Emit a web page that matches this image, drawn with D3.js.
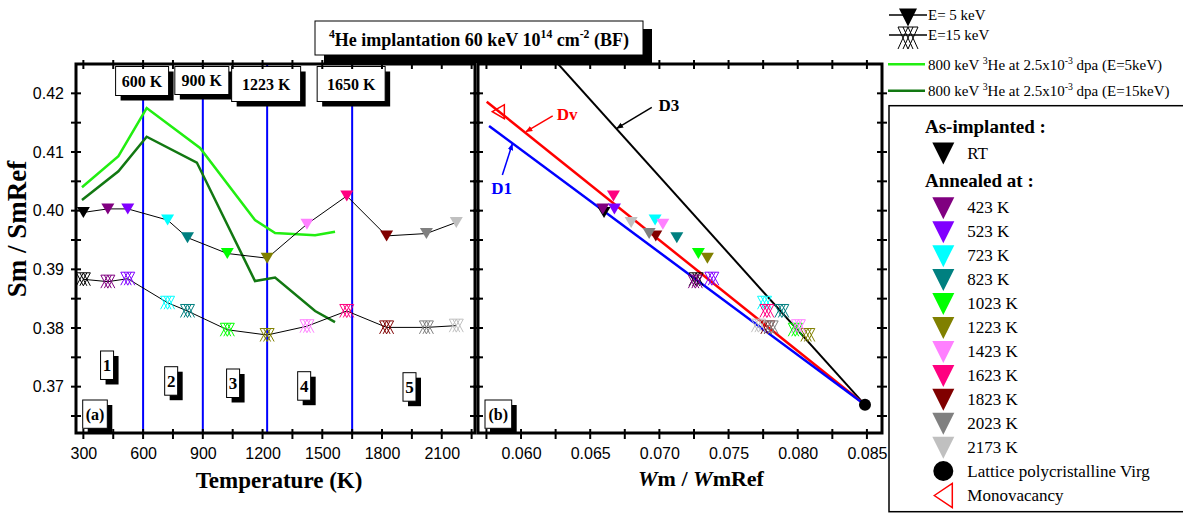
<!DOCTYPE html>
<html><head><meta charset="utf-8">
<script src="https://cdn.jsdelivr.net/npm/d3@7"></script>
<style>body{margin:0;background:#fff}svg{display:block}</style>
</head><body>
<svg id="c" width="1183" height="513"></svg>
<script>
// ---------------- DATA ----------------
const annealLabels = ["RT","423 K","523 K","723 K","823 K","1023 K","1223 K","1423 K","1623 K","1823 K","2023 K","2173 K"];
const annealTemps  = [300,423,523,723,823,1023,1223,1423,1623,1823,2023,2173];
const annealColors = ["#000000","#800080","#8000ff","#00ffff","#008080","#00ff00","#808000","#ff80ff","#ff0080","#800000","#808080","#c0c0c0"];
const sm5keV  = [0.3997,0.4003,0.4003,0.3984,0.3954,0.3927,0.3919,0.3977,0.4025,0.3957,0.3961,0.3980];
const sm15keV = [0.3883,0.3879,0.3884,0.3843,0.3829,0.3797,0.3788,0.3803,0.3829,0.3801,0.3801,0.3804];
const wm5keV  = [0.06600,0.06591,0.06675,0.06969,0.07126,0.07282,0.07347,0.07025,0.06668,0.06974,0.06926,0.06796];
const wm15keV = [0.07266,0.07260,0.07379,0.07760,0.07885,0.07982,0.08073,0.08005,0.07777,0.07784,0.07808,0.07716];

const he3LightT = [293,476,618,886,1162,1263,1464,1564];
const he3LightS = [0.4040,0.4093,0.4175,0.4107,0.3984,0.3962,0.3958,0.3964];
const he3DarkT  = [293,476,618,870,1162,1263,1464,1564];
const he3DarkS  = [0.4018,0.4067,0.4126,0.4082,0.3880,0.3886,0.3829,0.3810];

const stageTemps  = [600,900,1223,1650];
const stageLabels = ["600 K","900 K","1223 K","1650 K"];
const regionLabels = ["1","2","3","4","5"];
const regionT      = [419,741,1052,1409,1938];
const regionS      = [0.37608,0.37340,0.37301,0.37255,0.37238];

const latticeW = 0.08486, latticeS = 0.3669;
const monoW = 0.05836, monoS = 0.41687;
const lineD1 = [[0.05769,0.41443],[latticeW,latticeS]];
const lineDv = [[0.05752,0.41857],[latticeW,latticeS]];
const lineD3 = [[0.06230,0.4260],[latticeW,latticeS]];

const yTicks = [0.37,0.38,0.39,0.40,0.41,0.42];
const yMinor = [0.365,0.375,0.385,0.395,0.405,0.415];
const xTicksT = [300,600,900,1200,1500,1800,2100];
const xMinorT = [450,750,1050,1350,1650,1950,2250];
const xTicksW = [0.060,0.065,0.070,0.075,0.080,0.085];
const xMinorW = [0.0575,0.0625,0.0675,0.0725,0.0775,0.0825];

// ---------------- SETUP ----------------
const svg = d3.select("#c");
svg.append("rect").attr("width",1183).attr("height",513).attr("fill","#fff");
const SERIF = "'Liberation Serif','Times New Roman',serif";
const SANS = "'Liberation Sans',Arial,sans-serif";

const L = {x0:76,x1:475,y0:64,y1:433};
const R = {x0:478,x1:882,y0:64,y1:433};
const y = d3.scaleLinear().domain([0.3621,0.4250]).range([433,64]);
const xT = d3.scaleLinear().domain([263,2267]).range([L.x0,L.x1]);
const xW = d3.scaleLinear().domain([0.05689,0.08609]).range([R.x0,R.x1]);

const defs = svg.append("defs");
defs.append("clipPath").attr("id","clipL").append("rect").attr("x",L.x0).attr("y",L.y0).attr("width",L.x1-L.x0).attr("height",L.y1-L.y0);
defs.append("clipPath").attr("id","clipR").append("rect").attr("x",R.x0).attr("y",R.y0).attr("width",R.x1-R.x0).attr("height",R.y1-R.y0);
function arrowMarker(id,color){
  defs.append("marker").attr("id",id).attr("viewBox","0 0 10 10").attr("refX",9).attr("refY",5)
    .attr("markerWidth",7).attr("markerHeight",7).attr("orient","auto-start-reverse")
    .attr("markerUnits","userSpaceOnUse")
    .append("path").attr("d","M0,1 L10,5 L0,9 Z").attr("fill",color);
}
arrowMarker("arK","#000"); arrowMarker("arR","#ff0000"); arrowMarker("arB","#0000ff");

function triDown(w,h){return `M${-w/2},${-h/2}L${w/2},${-h/2}L0,${h/2}Z`;}
function crossSym(w,h){return `M${-w/2},${-h/2}L${w/2},${-h/2}L0,${h/2}Z M${-w/2},${h/2}L0,${-h/2}L${w/2},${h/2} M${-w/4},${-h/2}L${w/4},${h/2} M${w/4},${-h/2}L${-w/4},${h/2}`;}

function richText(g,x,yy,parts,size,opts={}){
  const t = g.append("text").attr("x",x).attr("y",yy).attr("font-family",SERIF).attr("font-size",size)
    .attr("font-weight",opts.bold?"bold":"normal").attr("fill",opts.fill||"#000").attr("text-anchor",opts.anchor||"start");
  let shift=0;
  parts.forEach(p=>{
    const s = typeof p==="string"?{t:p}:p;
    const ts = t.append("tspan").text(s.t);
    let target = s.sup? -size*0.42 : 0;
    if(target!==shift){ts.attr("dy",target-shift); shift=target;}
    if(s.sup) ts.attr("font-size",size*0.65);
    if(s.italic) ts.attr("font-style","italic");
  });
  return t;
}
function shadowBox(g,x,yy,w,h,off){
  g.append("rect").attr("x",x+off[0]).attr("y",yy+off[1]).attr("width",w).attr("height",h).attr("fill","#000");
  g.append("rect").attr("x",x).attr("y",yy).attr("width",w).attr("height",h).attr("fill","#fff").attr("stroke","#000").attr("stroke-width",1);
}

// ---------------- LEFT PANEL ----------------
const gL = svg.append("g");
const gLc = gL.append("g").attr("clip-path","url(#clipL)");
stageTemps.forEach(t=>{
  gLc.append("line").attr("x1",xT(t)).attr("x2",xT(t)).attr("y1",L.y0).attr("y2",L.y1).attr("stroke","#0000ff").attr("stroke-width",2);
});
const lineT = d3.line().x(d=>xT(d[0])).y(d=>y(d[1]));
gLc.append("path").attr("d",lineT(he3LightT.map((t,i)=>[t,he3LightS[i]]))).attr("fill","none").attr("stroke","#22ee11").attr("stroke-width",2.5);
gLc.append("path").attr("d",lineT(he3DarkT.map((t,i)=>[t,he3DarkS[i]]))).attr("fill","none").attr("stroke","#127812").attr("stroke-width",2.5);
gLc.append("path").attr("d",lineT(annealTemps.map((t,i)=>[t,sm5keV[i]]))).attr("fill","none").attr("stroke","#000").attr("stroke-width",1);
gLc.append("path").attr("d",lineT(annealTemps.map((t,i)=>[t,sm15keV[i]]))).attr("fill","none").attr("stroke","#000").attr("stroke-width",1);
annealTemps.forEach((t,i)=>{
  gLc.append("path").attr("d",triDown(13,11)).attr("transform",`translate(${xT(t)},${y(sm5keV[i])})`).attr("fill",annealColors[i]);
  gLc.append("path").attr("d",crossSym(14,13)).attr("transform",`translate(${xT(t)},${y(sm15keV[i])})`).attr("fill","none").attr("stroke",annealColors[i]).attr("stroke-width",1);
});
// stage boxes
const stageBoxW=[53,54,69,68], stageBoxH=[29,28,35,35];
stageTemps.forEach((t,i)=>{
  const cx = xT(t)-1;
  shadowBox(gL,cx-stageBoxW[i]/2,66.5,stageBoxW[i],stageBoxH[i],[5,5]);
  gL.append("text").attr("x",cx).attr("y",66.5+stageBoxH[i]/2+5.5).attr("text-anchor","middle")
    .attr("font-family",SERIF).attr("font-weight","bold").attr("font-size",16).text(stageLabels[i]);
});
regionLabels.forEach((r,i)=>{
  const cx = xT(regionT[i]), ty = y(regionS[i]);
  shadowBox(gL,cx-6.5,ty,13,28.5,[5,5]);
  gL.append("text").attr("x",cx).attr("y",ty+20).attr("text-anchor","middle")
    .attr("font-family",SERIF).attr("font-weight","bold").attr("font-size",17).text(r);
});

// ---------------- RIGHT PANEL ----------------
const gR = svg.append("g");
const gRc = gR.append("g").attr("clip-path","url(#clipR)");
const lineW = d3.line().x(d=>xW(d[0])).y(d=>y(d[1]));
gRc.append("path").attr("d",lineW(lineD3)).attr("stroke","#000").attr("stroke-width",2).attr("fill","none");
gRc.append("path").attr("d",lineW(lineDv)).attr("stroke","#ff0000").attr("stroke-width",2.5).attr("fill","none");
gRc.append("path").attr("d",lineW(lineD1)).attr("stroke","#0000ff").attr("stroke-width",2.5).attr("fill","none");
annealTemps.forEach((t,i)=>{
  gRc.append("path").attr("d",triDown(13,11)).attr("transform",`translate(${xW(wm5keV[i])},${y(sm5keV[i])})`).attr("fill",annealColors[i]);
  gRc.append("path").attr("d",crossSym(14,13)).attr("transform",`translate(${xW(wm15keV[i])},${y(sm15keV[i])})`).attr("fill","none").attr("stroke",annealColors[i]).attr("stroke-width",1);
});
gRc.append("circle").attr("cx",xW(latticeW)).attr("cy",y(latticeS)).attr("r",6).attr("fill","#000");
gRc.append("path").attr("d","M-6,0L6,-7L6,7Z").attr("transform",`translate(${xW(monoW)},${y(monoS)})`).attr("fill","none").attr("stroke","#ff0000").attr("stroke-width",1.5);

// annotations (data coords)
function ann(text,tw,ts,a0,a1,color,marker){
  gR.append("line").attr("x1",xW(a0[0])).attr("y1",y(a0[1])).attr("x2",xW(a1[0])).attr("y2",y(a1[1]))
    .attr("stroke",color).attr("stroke-width",1.5).attr("marker-end",`url(#${marker})`);
  gR.append("text").attr("x",xW(tw)).attr("y",y(ts)+6).attr("text-anchor","middle").attr("fill",color)
    .attr("font-family",SERIF).attr("font-weight","bold").attr("font-size",17).text(text);
}
ann("D3",0.07069,0.41801,[0.06945,0.41762],[0.06692,0.41404],"#000","arK");
ann("Dv",0.06334,0.41648,[0.06229,0.41614],[0.06036,0.41346],"#ff0000","arR");
ann("D1",0.05860,0.40381,[0.05865,0.40608],[0.05937,0.41136],"#0000ff","arB");

// panel labels
shadowBox(svg,82.7,400,24.6,28.3,[5,5]);
svg.append("text").attr("x",95).attr("y",419.5).attr("text-anchor","middle").attr("font-family",SERIF).attr("font-weight","bold").attr("font-size",16).text("(a)");
shadowBox(svg,485,400,26.7,28.3,[5,5]);
svg.append("text").attr("x",498.3).attr("y",419.5).attr("text-anchor","middle").attr("font-family",SERIF).attr("font-weight","bold").attr("font-size",16).text("(b)");

// ---------------- AXES / FRAMES ----------------
function frameTicks(P,xs,xMajor,xMinor){
  const g = svg.append("g");
  const all = xMajor.concat(xMinor);
  all.forEach(v=>{
    const X = xs(v);
    g.append("line").attr("x1",X).attr("x2",X).attr("y1",P.y1-4).attr("y2",P.y1+6).attr("stroke","#000").attr("stroke-width",2);
    g.append("line").attr("x1",X).attr("x2",X).attr("y1",P.y0-4).attr("y2",P.y0+5).attr("stroke","#000").attr("stroke-width",2);
  });
  yTicks.concat(yMinor).forEach(v=>{
    const Y = y(v);
    g.append("line").attr("x1",P.x0-5).attr("x2",P.x0+5).attr("y1",Y).attr("y2",Y).attr("stroke","#000").attr("stroke-width",2);
    g.append("line").attr("x1",P.x1-5).attr("x2",P.x1+5).attr("y1",Y).attr("y2",Y).attr("stroke","#000").attr("stroke-width",2);
  });
  g.append("rect").attr("x",P.x0).attr("y",P.y0).attr("width",P.x1-P.x0).attr("height",P.y1-P.y0).attr("fill","none").attr("stroke","#000").attr("stroke-width",3);
  return g;
}
frameTicks(L,xT,xTicksT,xMinorT);
frameTicks(R,xW,xTicksW,xMinorW);

// tick labels via d3 axes (no lines)
const axL = svg.append("g").attr("transform",`translate(${L.x0-9},0)`).call(d3.axisLeft(y).tickValues(yTicks).tickFormat(d3.format(".2f")).tickSize(0));
const axB1 = svg.append("g").attr("transform",`translate(0,${L.y1+12})`).call(d3.axisBottom(xT).tickValues(xTicksT).tickFormat(d3.format("d")).tickSize(0));
const axB2 = svg.append("g").attr("transform",`translate(0,${R.y1+12})`).call(d3.axisBottom(xW).tickValues(xTicksW).tickFormat(d3.format(".3f")).tickSize(0));
[axL,axB1,axB2].forEach(a=>{a.select(".domain").remove(); a.selectAll("text").attr("font-family",SANS).attr("font-size",16).attr("fill","#000");});

// axis titles
svg.append("text").attr("x",279).attr("y",488).attr("text-anchor","middle").attr("font-family",SERIF).attr("font-weight","bold").attr("font-size",23).text("Temperature (K)");
richText(svg,701,486,[{t:"W",italic:true},"m / ",{t:"W",italic:true},"mRef"],22,{bold:true,anchor:"middle"});
svg.append("text").attr("transform","translate(26,229) rotate(-90)").attr("text-anchor","middle").attr("font-family",SERIF).attr("font-weight","bold").attr("font-size",27).text("Sm / SmRef");

// ---------------- TITLE ----------------
shadowBox(svg,315,21,328,34,[9,8]);
richText(svg,479,46,[{t:"4",sup:true},"He implantation 60 keV 10",{t:"14",sup:true}," cm",{t:"-2",sup:true}," (BF)"],18,{bold:true,anchor:"middle"});

// ---------------- TOP LEGEND ----------------
const gT = svg.append("g");
gT.append("line").attr("x1",889).attr("x2",927).attr("y1",15).attr("y2",15).attr("stroke","#000").attr("stroke-width",1.5);
gT.append("path").attr("d",triDown(18,18)).attr("transform","translate(908,17.5)").attr("fill","#000");
richText(gT,928,20,["E= 5 keV"],15);
gT.append("line").attr("x1",889).attr("x2",927).attr("y1",35).attr("y2",35).attr("stroke","#000").attr("stroke-width",1.5);
gT.append("path").attr("d",crossSym(20,22)).attr("transform","translate(908,38)").attr("fill","none").attr("stroke","#000").attr("stroke-width",1);
richText(gT,928,40,["E=15 keV"],15);
gT.append("line").attr("x1",888).attr("x2",925).attr("y1",64.3).attr("y2",64.3).attr("stroke","#22ee11").attr("stroke-width",2.5);
richText(gT,928,70,["800 keV ",{t:"3",sup:true},"He at 2.5x10",{t:"-3",sup:true}," dpa (E=5keV)"],15);
gT.append("line").attr("x1",888).attr("x2",925).attr("y1",90.7).attr("y2",90.7).attr("stroke","#127812").attr("stroke-width",2.5);
richText(gT,928,96,["800 keV ",{t:"3",sup:true},"He at 2.5x10",{t:"-3",sup:true}," dpa (E=15keV)"],15);

// ---------------- BOX LEGEND ----------------
const gB = svg.append("g");
gB.append("rect").attr("x",889).attr("y",105.7).attr("width",310).attr("height",406).attr("fill","#fff").attr("stroke","#000").attr("stroke-width",1.5);
richText(gB,925,132.5,["As-implanted :"],19,{bold:true});
richText(gB,925,186.5,["Annealed at :"],19,{bold:true});
const rowY = [152.5,207.3,231.2,255.2,279.1,303.0,327.0,350.9,374.9,398.8,422.7,446.7];
annealLabels.forEach((lab,i)=>{
  gB.append("path").attr("d",triDown(22,22)).attr("transform",`translate(943.3,${rowY[i]+1})`).attr("fill",annealColors[i]);
  richText(gB,967.3,rowY[i]+6,[lab],17);
});
gB.append("circle").attr("cx",943.3).attr("cy",471).attr("r",10).attr("fill","#000");
richText(gB,967.3,477,["Lattice polycristalline Virg"],17);
gB.append("path").attr("d","M-9,0L9,-12L9,12Z").attr("transform","translate(943.3,495.5)").attr("fill","none").attr("stroke","#ff0000").attr("stroke-width",1.5);
richText(gB,967.3,501,["Monovacancy"],17);
</script>
</body></html>
